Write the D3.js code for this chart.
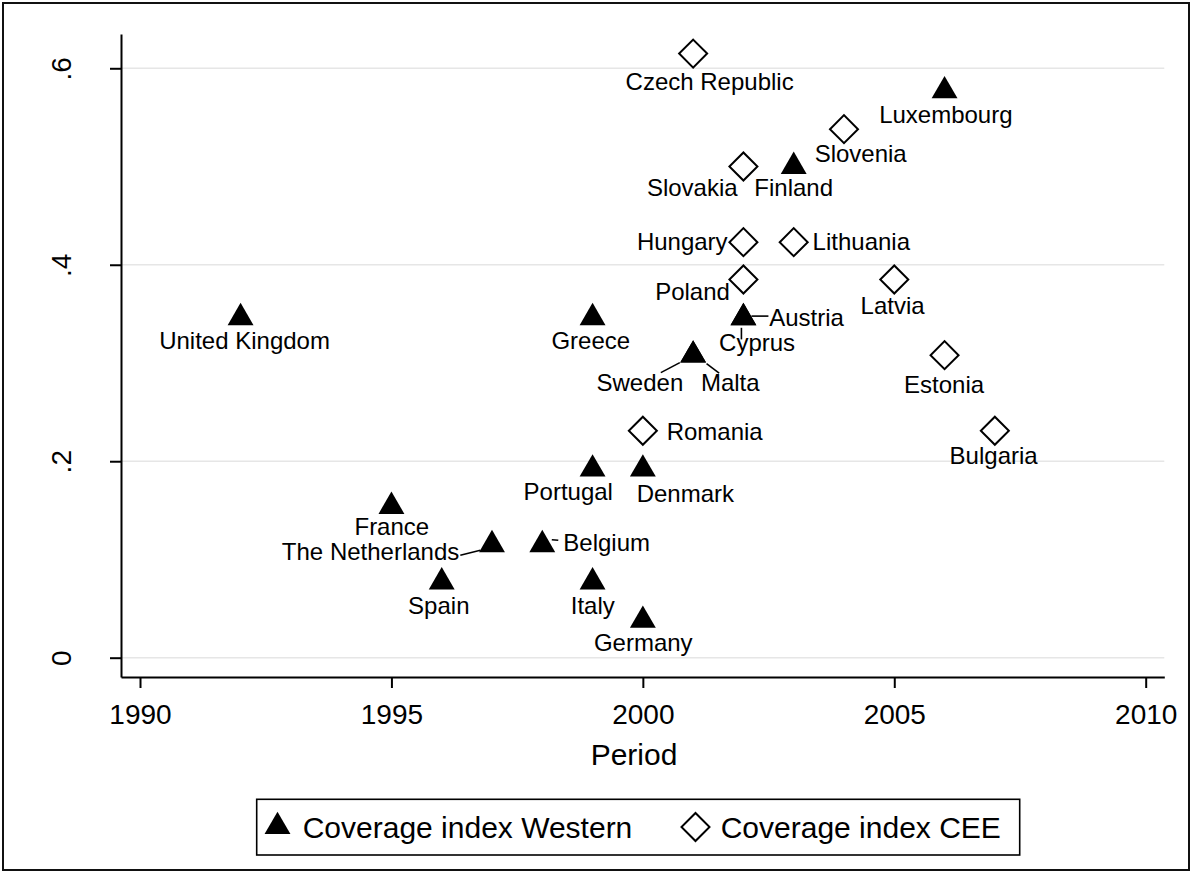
<!DOCTYPE html>
<html>
<head>
<meta charset="utf-8">
<script src="https://cdn.jsdelivr.net/npm/d3@7"></script>
<style>
  html, body { margin: 0; padding: 0; background: #fff; }
  svg { display: block; font-family: "Liberation Sans", Arial, Helvetica, sans-serif; }
</style>
</head>
<body>
<svg id="chart" width="1192" height="878"></svg>
<script>
// ---------------- DATA ----------------
const westernCountries = ["United Kingdom","Greece","Austria","Cyprus","Sweden","Malta","Finland","Luxembourg",
  "Portugal","Denmark","France","The Netherlands","Belgium","Spain","Italy","Germany"];
const westernYear  = [1992,1999,2002,2002,2001,2001,2003,2006,1999,2000,1995,1997,1998,1996,1999,2000];
const westernValue = [0.346,0.346,0.346,0.346,0.308,0.308,0.500,0.577,0.192,0.192,0.154,0.115,0.115,0.077,0.077,0.038];

const ceeCountries = ["Czech Republic","Slovenia","Slovakia","Hungary","Lithuania","Poland","Latvia","Estonia","Romania","Bulgaria"];
const ceeYear  = [2001,2004,2002,2002,2003,2002,2005,2006,2000,2007];
const ceeValue = [0.615,0.538,0.500,0.423,0.423,0.385,0.385,0.308,0.231,0.231];

const xTicks = [1990,1995,2000,2005,2010];
const xTickLabels = ["1990","1995","2000","2005","2010"];
const yTicks = [0,0.2,0.4,0.6];
const yTickLabels = ["0",".2",".4",".6"];
const seriesNames = ["Coverage index Western","Coverage index CEE"];
const xTitle = "Period";

// ---------------- LAYOUT (label placement relative to marker) ----------------
// [anchor, dx, dy]  anchor: m=middle, s=start, e=end ; dy = baseline offset
const labelLayout = {
  "Czech Republic": ["m", 16.5, 36.8],
  "Slovenia": ["m", 16.7, 32.9],
  "Luxembourg": ["m", 1.3, 31.7],
  "Slovakia": ["e", -5.8, 29.4],
  "Finland": ["m", 0, 29.4],
  "Hungary": ["e", -15.8, 7.9],
  "Lithuania": ["s", 18.9, 7.9],
  "Poland": ["e", -13.5, 20.8],
  "Latvia": ["m", -1.7, 34.1],
  "United Kingdom": ["m", 4, 31.3],
  "Greece": ["m", -1.8, 31.3],
  "Austria": ["s", 25.8, 8],
  "Cyprus": ["m", 13.7, 33.3],
  "Sweden": ["e", -9.9, 35.5],
  "Malta": ["s", 7.8, 35.5],
  "Estonia": ["m", -0.5, 37.8],
  "Romania": ["s", 23.8, 9],
  "Bulgaria": ["m", -1.2, 33.3],
  "Portugal": ["m", -24.3, 30.5],
  "Denmark": ["s", -6.2, 32.9],
  "France": ["m", 0.4, 28.4],
  "The Netherlands": ["e", -32.7, 14.9],
  "Belgium": ["s", 21, 6.6],
  "Spain": ["m", -2.9, 31.9],
  "Italy": ["m", 0.2, 31.9],
  "Germany": ["m", 0.4, 30.8]
};
// connector segments relative to marker: [x1,y1,x2,y2]
const connectors = {
  "Austria": [8, -1.7, 25, -1.7],
  "Cyprus": [-2, 10, -2, 21.6],
  "Sweden": [-13.3, 7.5, -32.3, 17.5],
  "Malta": [13.4, 8.6, 26, 18],
  "The Netherlands": [-11.7, 5.6, -31.7, 10.6],
  "Belgium": [9.5, -5, 16, -4.4]
};

// ---------------- CHART ----------------
const svg = d3.select("#chart");
const W = 1192, H = 878;
const plotL = 121, plotR = 1164.3, plotT = 34, plotB = 677;

svg.append("rect").attr("x",0).attr("y",0).attr("width",W).attr("height",H).attr("fill","#fff");
svg.append("rect").attr("x",3).attr("y",3).attr("width",1186).attr("height",867)
  .attr("fill","none").attr("stroke","#111").attr("stroke-width",2);

const x = d3.scaleLinear().domain([1989.622, 2010.37]).range([plotL, plotR]);
const y = d3.scaleLinear().domain([-0.01965, 0.6349]).range([plotB, plotT]);

// gridlines
svg.append("g").selectAll("line").data(yTicks).join("line")
  .attr("x1", plotL).attr("x2", plotR)
  .attr("y1", d => y(d)).attr("y2", d => y(d))
  .attr("stroke", "#e6e6e6").attr("stroke-width", 1.6);

// x axis
const xAxis = d3.axisBottom(x).tickValues(xTicks).tickFormat((d,i) => xTickLabels[i])
  .tickSize(11).tickSizeOuter(0);
const gx = svg.append("g").attr("transform", `translate(0,${plotB})`).call(xAxis);
gx.select(".domain").attr("stroke","#000").attr("stroke-width",2);
gx.selectAll(".tick line").attr("stroke","#000").attr("stroke-width",2);
gx.selectAll(".tick text").attr("y", 47).attr("dy", 0)
  .attr("font-size", 28).attr("fill","#000").attr("font-family", null);

// y axis
const yAxis = d3.axisLeft(y).tickValues(yTicks).tickFormat((d,i) => yTickLabels[i])
  .tickSize(11).tickSizeOuter(0);
const gy = svg.append("g").attr("transform", `translate(${plotL},0)`).call(yAxis);
gy.select(".domain").attr("stroke","#000").attr("stroke-width",2);
gy.selectAll(".tick line").attr("stroke","#000").attr("stroke-width",2);
gy.selectAll(".tick text").attr("x", null).attr("dy", 0)
  .attr("transform", "translate(-50,0) rotate(-90)")
  .attr("text-anchor","middle")
  .attr("font-size", 28).attr("fill","#000").attr("font-family", null);

// axis title
svg.append("text").attr("x", 634).attr("y", 765)
  .attr("text-anchor","middle").attr("font-size", 30).text(xTitle);

// symbols
const triSize = 290;
const triPath = d3.symbol().type(d3.symbolTriangle).size(triSize)();
const diaPath = d3.symbol().type(d3.symbolSquare).size(392)();

const western = westernCountries.map((c,i) => ({name:c, year:westernYear[i], value:westernValue[i], type:"w"}));
const cee = ceeCountries.map((c,i) => ({name:c, year:ceeYear[i], value:ceeValue[i], type:"c"}));
const all = western.concat(cee);

// connectors
svg.append("g").selectAll("line").data(all.filter(d => connectors[d.name])).join("line")
  .attr("x1", d => x(d.year) + connectors[d.name][0])
  .attr("y1", d => y(d.value) + connectors[d.name][1])
  .attr("x2", d => x(d.year) + connectors[d.name][2])
  .attr("y2", d => y(d.value) + connectors[d.name][3])
  .attr("stroke","#000").attr("stroke-width",1.6);

svg.append("g").selectAll("path").data(western).join("path")
  .attr("d", triPath)
  .attr("transform", d => `translate(${x(d.year)},${y(d.value)})`)
  .attr("fill","#000");

svg.append("g").selectAll("path").data(cee).join("path")
  .attr("d", diaPath)
  .attr("transform", d => `translate(${x(d.year)},${y(d.value)}) rotate(45)`)
  .attr("fill","#fff").attr("stroke","#000").attr("stroke-width",2);

// labels
const anchorMap = {m:"middle", s:"start", e:"end"};
svg.append("g").selectAll("text").data(all).join("text")
  .attr("x", d => x(d.year) + labelLayout[d.name][1])
  .attr("y", d => y(d.value) + labelLayout[d.name][2])
  .attr("text-anchor", d => anchorMap[labelLayout[d.name][0]])
  .attr("font-size", 24).attr("fill","#000")
  .text(d => d.name);

// legend
const lg = svg.append("g");
lg.append("rect").attr("x",256.7).attr("y",799.3).attr("width",763).attr("height",55.7)
  .attr("fill","#fff").attr("stroke","#000").attr("stroke-width",1.6);
lg.append("path").attr("d", triPath).attr("transform","translate(277.5,826.6)").attr("fill","#000");
lg.append("text").attr("x",302.7).attr("y",838.3).attr("font-size",30).text(seriesNames[0]);
lg.append("path").attr("d", diaPath).attr("transform","translate(695.5,827) rotate(45)")
  .attr("fill","#fff").attr("stroke","#000").attr("stroke-width",2);
lg.append("text").attr("x",720.7).attr("y",838.3).attr("font-size",30).text(seriesNames[1]);
</script>
</body>
</html>
